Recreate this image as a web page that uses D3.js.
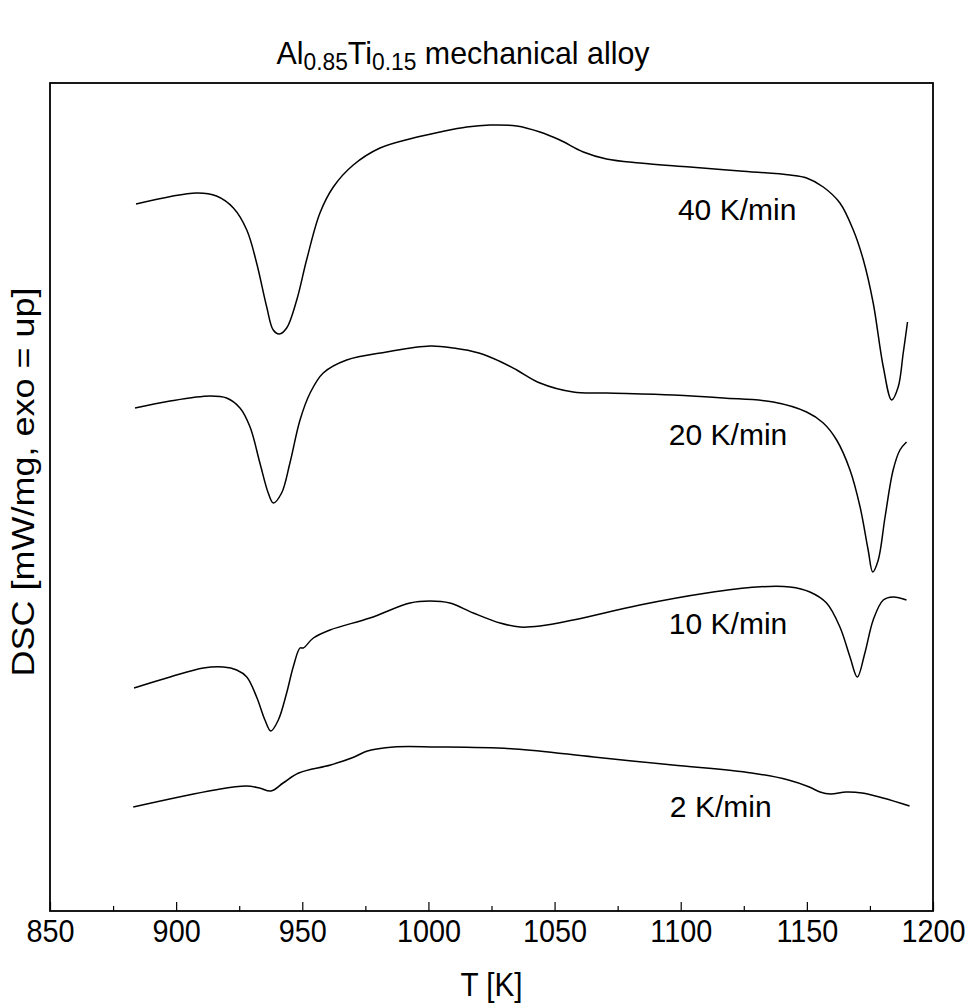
<!DOCTYPE html>
<html><head><meta charset="utf-8">
<script src="https://cdn.jsdelivr.net/npm/d3@7"></script>
<style>
html,body{margin:0;padding:0;background:#fff;}
text{font-family:"Liberation Sans",Arial,Helvetica,sans-serif;fill:#000;}
</style></head>
<body><svg id="chart" width="971" height="1008"></svg>
<script>
// ---- data (T in K, DSC in arbitrary units, exo = up) ----
const rate40_T = [884.1,908.1,916,922.7,928,931.9,935.9,938.5,940.9,943.8,947.8,951.7,957,962.3,970.2,980.8,994,1004.6,1015.2,1024.4,1035,1044.2,1052.1,1061.4,1070.6,1083.8,1103.7,1123.5,1143.3,1149.9,1156.5,1163.1,1168.4,1172.4,1176.3,1180.3,1183.6,1186.2,1188.2,1189.9];
const rate40_v = [70.7,71.8,71.5,70.3,68.1,64.8,60.4,58.1,57.7,58.3,61.1,65.1,69.8,72.4,74.6,76.3,77.3,77.9,78.4,78.6,78.5,77.9,77.1,75.9,75.2,74.8,74.4,74.0,73.6,73.3,72.4,70.8,68.1,65.1,60.8,54.4,51.1,52.4,55.8,58.9];

const rate20_T = [883.7,897.6,913.4,920,925.3,929.3,933.2,936.5,938.5,941.8,945.1,949.1,953.1,958.3,967.6,983.4,1000.6,1010,1020,1028,1035,1044.2,1057.4,1070.6,1097,1116.9,1136.7,1149.9,1156.5,1161.8,1167.1,1171.1,1174.3,1176.1,1178.3,1181,1184.2,1186.9,1189.5];
const rate20_v = [50.3,51.0,51.5,51.3,50.3,48.4,44.8,41.8,40.8,41.8,44.8,49.1,51.8,53.8,55.1,55.9,56.5,56.3,55.8,55.0,54.1,52.8,51.9,51.8,51.6,51.3,50.9,49.9,48.8,47.1,44.1,40.4,36.1,33.9,35.1,39.4,44.1,46.1,46.9];

const rate10_T = [883.3,897.6,910.8,918.7,924,928,931.9,935.2,937.5,940.5,943.8,946.4,949.1,950.4,954.4,961,976.8,992.7,1000.6,1008.5,1017.8,1028.4,1036.3,1044.2,1057.4,1083.8,1110.3,1130.1,1143.3,1151.2,1157.8,1163.1,1167.1,1170,1173,1176.3,1180.3,1184.2,1189.5];
const rate10_v = [22.3,23.4,24.3,24.4,24.1,23.4,21.4,19.1,18.0,19.1,21.8,24.4,26.3,26.3,27.3,28.1,29.3,30.8,31.0,30.8,29.8,28.8,28.4,28.5,29.1,30.6,31.8,32.4,32.4,31.9,30.8,28.4,25.4,23.4,25.8,29.1,31.1,31.4,31.1];

const rate2_T = [883,915.3,927.8,933,937.6,942.4,948.6,961.2,970.6,975.8,986.2,1002.9,1034.2,1065.5,1096.8,1128.1,1142.7,1151,1155.2,1159.4,1165.6,1171.9,1180.2,1190.7];
const rate2_v = [10.4,12.1,12.5,12.3,12.0,12.8,13.8,14.6,15.4,16.0,16.4,16.4,16.2,15.4,14.6,13.8,13.1,12.4,11.9,11.7,11.9,11.8,11.3,10.5];

const seriesNames = ["40 K/min","20 K/min","10 K/min","2 K/min"];
const labelT = [1098.9,1095.3,1095.3,1095.7];
const labelV = [69.1,46.6,27.7,9.4];

const xMajorTicks = [850,900,950,1000,1050,1100,1150,1200];
const xMinorTicks = [875,925,975,1025,1075,1125,1175];
const xDomain = [850,1200];
const yDomain = [0,82.8];

const titleMain1 = "Al", titleSub1 = "0.85", titleMain2 = "Ti", titleSub2 = "0.15", titleRest = " mechanical alloy";
const xTitle = "T [K]";
const yTitle = "DSC [mW/mg, exo = up]";

// ---- drawing ----
const svg = d3.select("#chart");
const L = 50, R = 933, T = 83, B = 911;
const x = d3.scaleLinear().domain(xDomain).range([L, R]);
const y = d3.scaleLinear().domain(yDomain).range([B, T]);

const series = [
  {T: rate40_T, v: rate40_v},
  {T: rate20_T, v: rate20_v},
  {T: rate10_T, v: rate10_v},
  {T: rate2_T, v: rate2_v}
];

// frame
svg.append("rect").attr("x", L).attr("y", T).attr("width", R - L).attr("height", B - T)
  .attr("fill", "none").attr("stroke", "#000").attr("stroke-width", 1.8);

// bottom axis, ticks inward
const axMajor = d3.axisBottom(x).tickValues(xMajorTicks).tickSizeInner(-9).tickSizeOuter(0).tickPadding(14).tickFormat(d3.format("d"));
const gx = svg.append("g").attr("transform", `translate(0,${B})`).call(axMajor);
gx.select(".domain").remove();
gx.selectAll("line").attr("stroke", "#000").attr("stroke-width", 1.2);
gx.selectAll("text").attr("font-size", 32).attr("font-family", "Liberation Sans, Arial, sans-serif").attr("fill", "#000")
  .attr("y", 0).attr("dy", null)
  .attr("transform", "translate(0,31) scale(0.9,1)");

const axMinor = d3.axisBottom(x).tickValues(xMinorTicks).tickSizeInner(-5).tickSizeOuter(0).tickFormat("");
const gm = svg.append("g").attr("transform", `translate(0,${B})`).call(axMinor);
gm.select(".domain").remove();
gm.selectAll("line").attr("stroke", "#000").attr("stroke-width", 1.2);

// curves
const line = d3.line().x(d => x(d[0])).y(d => y(d[1])).curve(d3.curveCatmullRom.alpha(0.5));
series.forEach(s => {
  const pts = s.T.map((t, i) => [t, s.v[i]]);
  svg.append("path").datum(pts).attr("d", line)
    .attr("fill", "none").attr("stroke", "#000").attr("stroke-width", 1.5);
});

// curve labels
seriesNames.forEach((name, i) => {
  svg.append("text").attr("x", x(labelT[i])).attr("y", y(labelV[i]))
    .attr("font-size", 30).text(name);
});

// title
const title = svg.append("text").attr("transform", "translate(463,64) scale(0.95,1)")
  .attr("text-anchor", "middle").attr("font-size", 32);
title.append("tspan").text(titleMain1);
title.append("tspan").attr("font-size", 24).attr("dy", 6).text(titleSub1);
title.append("tspan").attr("dy", -6).text(titleMain2);
title.append("tspan").attr("font-size", 24).attr("dy", 6).text(titleSub2);
title.append("tspan").attr("dy", -6).text(titleRest);

// axis titles
svg.append("text").attr("transform", `translate(${(L + R) / 2},996) scale(0.9,1)`).attr("text-anchor", "middle")
  .attr("font-size", 33).text(xTitle);
svg.append("text").attr("transform", `translate(34,482) rotate(-90) scale(1,0.88)`)
  .attr("text-anchor", "middle").attr("font-size", 36).text(yTitle);
</script>
</body></html>
